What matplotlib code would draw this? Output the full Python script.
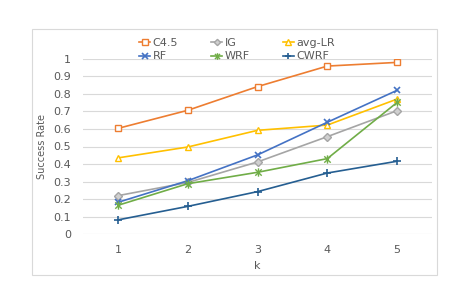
import matplotlib
matplotlib.use("Agg")
import matplotlib.pyplot as plt
from matplotlib.path import Path
from matplotlib.patches import Rectangle

plt.rcParams['font.family'] = ['DejaVu Sans']

k = [1, 2, 3, 4, 5]
c45 = [0.603, 0.706, 0.841, 0.958, 0.979]
ig = [0.220, 0.295, 0.412, 0.556, 0.704]
avg_lr = [0.435, 0.497, 0.592, 0.622, 0.770]
rf = [0.182, 0.305, 0.452, 0.638, 0.820]
wrf = [0.165, 0.288, 0.353, 0.431, 0.751]
cwrf = [0.082, 0.159, 0.243, 0.349, 0.416]
yticks = [0, 0.1, 0.2, 0.3, 0.4, 0.5, 0.6, 0.7, 0.8, 0.9, 1]
ytick_labels = ["0", "0.1", "0.2", "0.3", "0.4", "0.5", "0.6", "0.7", "0.8", "0.9", "1"]

star = Path([(-1, -1), (1, 1), (-1, 1), (1, -1), (0, -1.3), (0, 1.3)],
            [Path.MOVETO, Path.LINETO, Path.MOVETO, Path.LINETO, Path.MOVETO, Path.LINETO])

fig = plt.figure(figsize=(4.71, 3.05), dpi=100)
fig.patches.append(Rectangle((32/471, 1-275/305), (437-32)/471, (275-29)/305,
                             transform=fig.transFigure, fill=False,
                             edgecolor='#d9d9d9', lw=0.8))
ax = fig.add_axes([83/471, 1-234.3/305, (432-83)/471, (234.3-58.7)/305])

lw = 1.2
ms = 5
h = {}
h['C4.5'], = ax.plot(k, c45, color='#ED7D31', lw=lw, marker='s', ms=ms,
                     mfc='white', mec='#ED7D31', mew=1.0)
h['IG'], = ax.plot(k, ig, color='#A5A5A5', lw=lw, marker='D', ms=4,
                   mfc='#d0d0d0', mec='#A5A5A5', mew=1.0)
h['avg-LR'], = ax.plot(k, avg_lr, color='#FFC000', lw=lw, marker='^', ms=ms,
                       mfc='white', mec='#FFC000', mew=1.0)
h['RF'], = ax.plot(k, rf, color='#4472C4', lw=lw, marker='x', ms=ms, mew=1.2)
h['WRF'], = ax.plot(k, wrf, color='#70AD47', lw=lw, marker=star, ms=ms+1, mew=1.0)
h['CWRF'], = ax.plot(k, cwrf, color='#255E91', lw=lw, marker='+', ms=ms+1, mew=1.2)

ax.set_xlim(0.5, 5.5)
ax.set_ylim(0, 1)
ax.set_xticks(k)
ax.set_yticks(yticks)
ax.set_yticklabels(ytick_labels)
for s in ax.spines.values():
    s.set_visible(False)
ax.grid(axis='y', color='#d9d9d9', lw=0.8)
ax.set_axisbelow(True)
ax.tick_params(length=0, labelsize=8, colors='#595959')
ax.tick_params(axis='y', pad=8.6)
ax.tick_params(axis='x', pad=8)
ax.set_xlabel('k', fontsize=8, color='#595959', labelpad=4)
ax.set_ylabel('Success Rate', fontsize=7, color='#595959', labelpad=4.5)

order = ['C4.5', 'RF', 'IG', 'WRF', 'avg-LR', 'CWRF']
leg = fig.legend([h[n] for n in order], order, ncol=3, loc='center',
                 bbox_to_anchor=(237/471, 1-49.8/305), frameon=False,
                 fontsize=8, handlelength=1.0, handletextpad=0.18,
                 columnspacing=3.0, labelspacing=0.3, borderpad=0,
                 markerscale=0.8)
for t in leg.get_texts():
    t.set_color('#595959')

fig.savefig('out.png', dpi=100)
